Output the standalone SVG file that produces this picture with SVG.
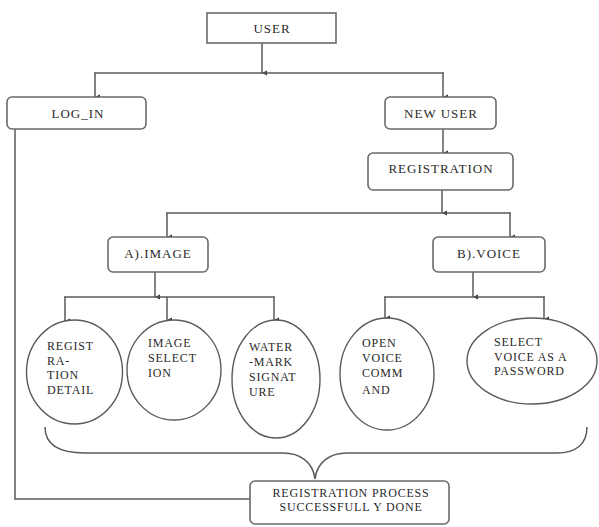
<svg xmlns="http://www.w3.org/2000/svg" width="599" height="527" viewBox="0 0 599 527">
<defs>
<marker id="arr" markerUnits="userSpaceOnUse" markerWidth="8" markerHeight="8" refX="4" refY="7" orient="auto-start-reverse" viewBox="0 0 8 8">
<path d="M1.5,2 L6.5,2 L4,7 Z" fill="#333"/>
</marker>
<style>
.box{fill:#fff;stroke:#6a6a6a;stroke-width:1.6}
.ell{fill:#fff;stroke:#5a5a5a;stroke-width:1.4}
.ln{fill:none;stroke:#5a5a5a;stroke-width:1.5}
.a{marker-end:url(#arr)}
.t{font-family:"Liberation Serif","Times New Roman",serif;font-size:13px;fill:#2a2a2a;letter-spacing:1px;text-anchor:middle}
.s{font-family:"Liberation Serif","Times New Roman",serif;font-size:12px;fill:#2a2a2a;letter-spacing:0.8px}
</style>
</defs>
<rect width="599" height="527" fill="#fff"/>
<g id="connectors">
<line class="ln a" x1="262" y1="43" x2="262" y2="73"/>
<line class="ln" x1="94" y1="73" x2="444" y2="73"/>
<line class="ln a" x1="95" y1="73" x2="95" y2="97"/>
<line class="ln a" x1="443" y1="73" x2="443" y2="97"/>
<line class="ln a" x1="443" y1="129" x2="443" y2="153"/>
<line class="ln a" x1="442" y1="190" x2="442" y2="213"/>
<line class="ln" x1="166" y1="213" x2="511" y2="213"/>
<line class="ln a" x1="167" y1="213" x2="167" y2="237"/>
<line class="ln a" x1="510" y1="213" x2="510" y2="237"/>
<line class="ln a" x1="155" y1="272" x2="155" y2="297"/>
<line class="ln" x1="64" y1="297" x2="275" y2="297"/>
<line class="ln a" x1="65" y1="297" x2="65" y2="321"/>
<line class="ln a" x1="167" y1="297" x2="167" y2="320"/>
<line class="ln a" x1="274" y1="297" x2="274" y2="320"/>
<line class="ln a" x1="473" y1="272" x2="473" y2="297"/>
<line class="ln" x1="384" y1="297" x2="545" y2="297"/>
<line class="ln a" x1="385" y1="297" x2="385" y2="318"/>
<line class="ln a" x1="544" y1="297" x2="544" y2="319"/>
<polyline class="ln" points="15,129 15,499 250,499"/>
<path class="ln" d="M45,427 C45,445 60,453 85,453 L283,453 C300,453 313,462 315,479 C317,462 330,453 347,453 L557,453 C575,453 587,445 587,427"/>
</g>
<g id="user">
<rect class="box" x="207" y="13" width="129" height="30"/>
<text class="t" x="272" y="33">USER</text>
</g>
<g id="login">
<rect class="box" x="7" y="97" width="139" height="32" rx="5"/>
<text class="t" x="78" y="118">LOG_IN</text>
</g>
<g id="newuser">
<rect class="box" x="385" y="97" width="111" height="32" rx="5"/>
<text class="t" x="441" y="118">NEW USER</text>
</g>
<g id="registration">
<rect class="box" x="368" y="153" width="145" height="37" rx="5"/>
<text class="t" x="441" y="173">REGISTRATION</text>
</g>
<g id="image">
<rect class="box" x="108" y="237" width="100" height="35" rx="5"/>
<text class="t" x="158" y="258">A).IMAGE</text>
</g>
<g id="voice">
<rect class="box" x="433" y="237" width="112" height="35" rx="5"/>
<text class="t" x="489" y="258">B).VOICE</text>
</g>
<g id="regdetail">
<ellipse class="ell" cx="74.5" cy="372" rx="48" ry="52"/>
<text class="s" x="47"><tspan x="47" y="350">REGIST</tspan><tspan x="47" y="365">RA-</tspan><tspan x="47" y="379">TION</tspan><tspan x="47" y="394">DETAIL</tspan></text>
</g>
<g id="imgselect">
<ellipse class="ell" cx="174" cy="370" rx="47" ry="50"/>
<text class="s"><tspan x="148" y="347">IMAGE</tspan><tspan x="148" y="362">SELECT</tspan><tspan x="148" y="377">ION</tspan></text>
</g>
<g id="watermark">
<ellipse class="ell" cx="276" cy="379" rx="44" ry="59"/>
<text class="s"><tspan x="249" y="351">WATER</tspan><tspan x="249" y="366">-MARK</tspan><tspan x="249" y="381">SIGNAT</tspan><tspan x="249" y="396">URE</tspan></text>
</g>
<g id="openvoice">
<ellipse class="ell" cx="387" cy="374" rx="47" ry="56"/>
<text class="s"><tspan x="362" y="347">OPEN</tspan><tspan x="362" y="362">VOICE</tspan><tspan x="362" y="377">COMM</tspan><tspan x="362" y="394">AND</tspan></text>
</g>
<g id="selectvoice">
<ellipse class="ell" cx="532" cy="361" rx="65" ry="43"/>
<text class="s"><tspan x="494" y="346">SELECT</tspan><tspan x="494" y="361">VOICE AS A</tspan><tspan x="494" y="375">PASSWORD</tspan></text>
</g>
<g id="done">
<rect class="box" x="250" y="481" width="199" height="43" rx="5"/>
<text class="s" text-anchor="middle" letter-spacing="1"><tspan x="351" y="497">REGISTRATION PROCESS</tspan><tspan x="351" y="511">SUCCESSFULL Y DONE</tspan></text>
</g>
</svg>
